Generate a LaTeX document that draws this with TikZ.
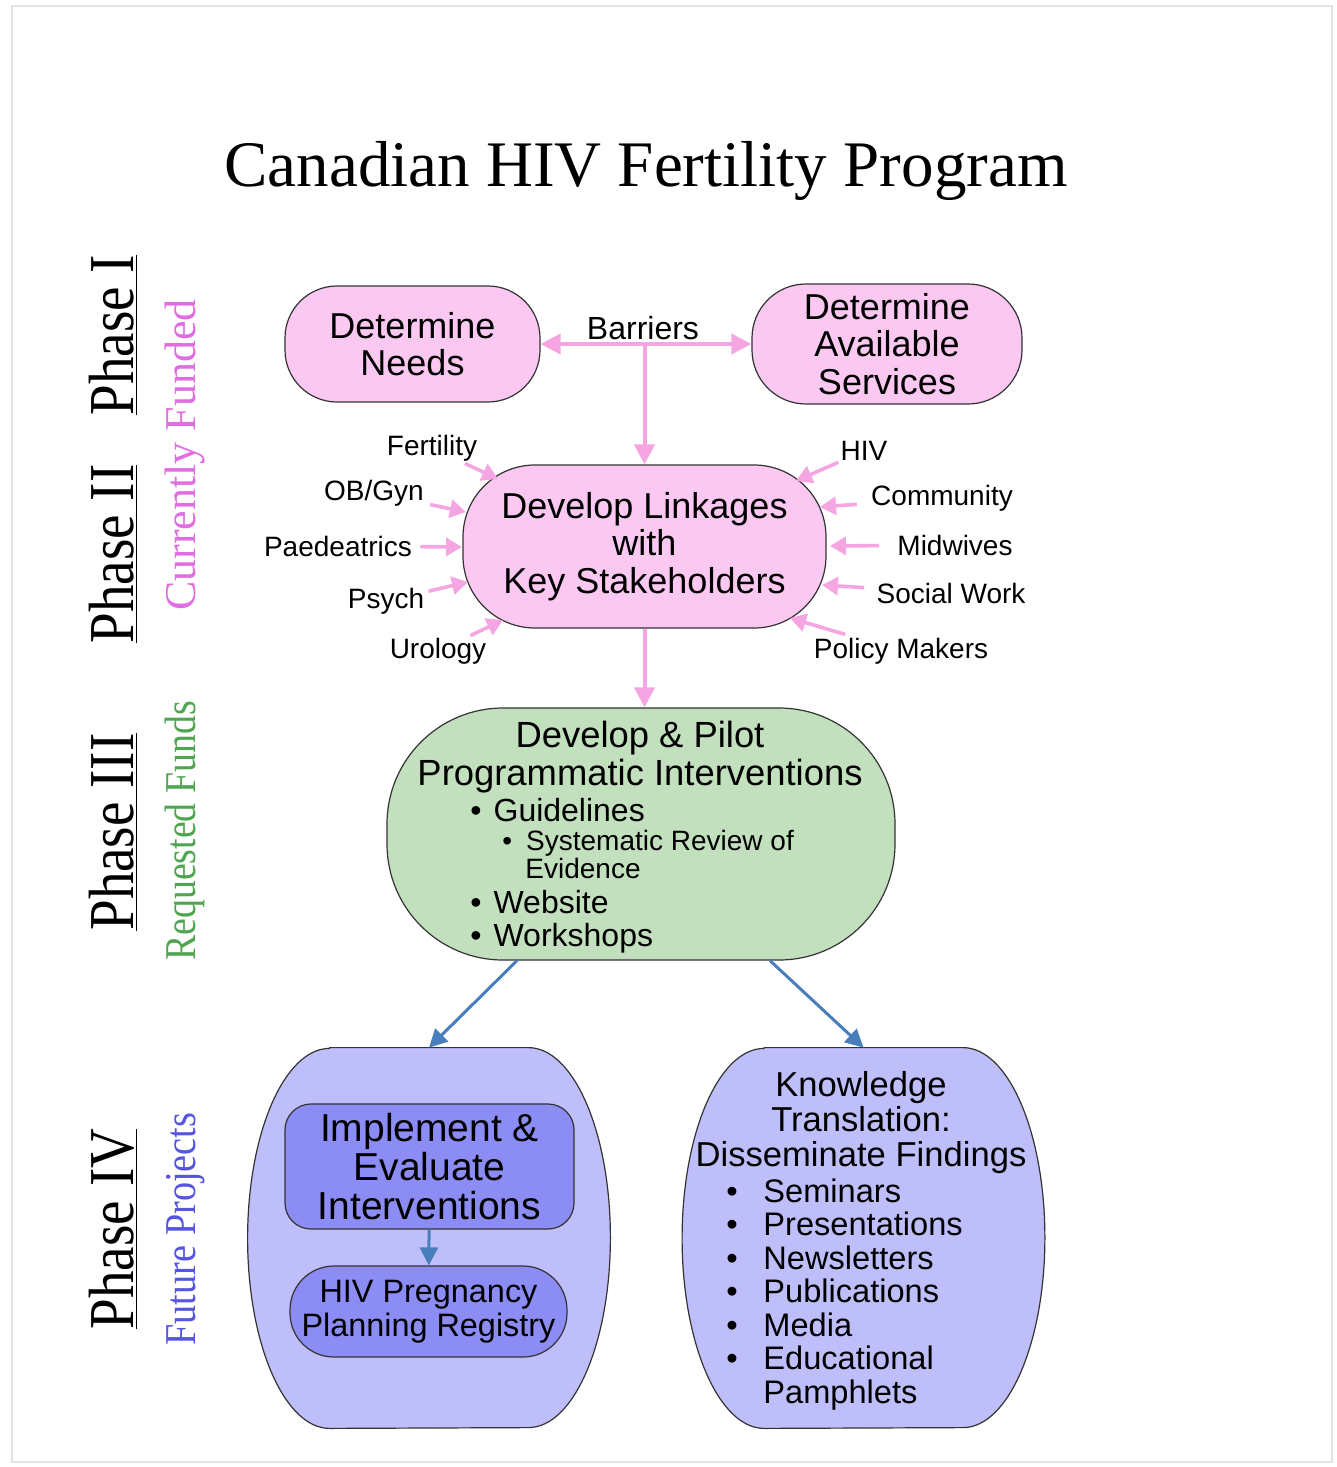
\documentclass[tikz,border=0pt]{standalone}
\usepackage{fontspec}
\setmainfont{Liberation Sans}
\newfontfamily\timesfont{Liberation Serif}
\usepackage{xcolor}
\usetikzlibrary{arrows.meta, calc}
\definecolor{pinkfill}{RGB}{250,200,240}
\definecolor{pinkline}{RGB}{245,165,225}
\definecolor{greenfill}{RGB}{195,224,190}
\definecolor{lavfill}{RGB}{190,190,250}
\definecolor{deepfill}{RGB}{140,140,245}
\definecolor{arrblue}{RGB}{74,126,187}
\definecolor{fundpink}{RGB}{225,110,225}
\definecolor{reqgreen}{RGB}{80,165,80}
\definecolor{futblue}{RGB}{85,85,225}
\tikzset{pinkbox/.style={draw=black!80, line width=0.6pt, fill=pinkfill, align=center, inner sep=0pt,
  font=\fontsize{18}{18.75}\selectfont},
  deepbox/.style={draw=black!80, line width=0.6pt, fill=deepfill, align=center, inner sep=0pt},
  pinkarr/.style={draw=pinkline, line width=2pt, -{Triangle[length=10pt,width=10pt]}},
  stakearr/.style={draw=pinkline, line width=1.8pt, -{Triangle[length=8pt,width=9pt]}},
  bluearr/.style={draw=arrblue, line width=1.5pt, -{Triangle[length=9pt,width=9pt]}},
  stake/.style={font=\fontsize{14}{16}\selectfont, inner sep=1pt},
  phase/.style={rotate=90, anchor=base, font=\timesfont\fontsize{32}{36}\selectfont},
  fund/.style={rotate=90, anchor=base, font=\timesfont\fontsize{22}{26}\selectfont}}
\newcommand{\barrelbox}[2]{%
  \node[minimum width=181pt, minimum height=190pt, inner sep=0pt] (#1) at (#2) {};
  \draw[draw=black!80, line width=0.6pt, fill=lavfill]
    ([xshift=41pt]#1.north west) -- ([xshift=-41pt]#1.north east)
    arc[start angle=90, end angle=-90, x radius=41pt, y radius=95pt]
    -- ([xshift=41pt]#1.south west)
    arc[start angle=270, end angle=90, x radius=41pt, y radius=95pt] -- cycle;}

\begin{document}
\begin{tikzpicture}[x=0.5pt, y=-0.5pt]
\useasboundingbox (0,0) rectangle (1337,1467);
\draw[black!10, line width=1pt] (12,6) rectangle (1332,1462);
\node[font=\timesfont\fontsize{32.5}{36}\selectfont, anchor=base] (title) at (646,186) {Canadian HIV Fertility Program};

% phases down the left side
\foreach \nm/\txt/\y in {ph1/I/335, ph2/II/554, ph3/III/832, ph4/IV/1229}
  \node[phase] (\nm) at (133,\y) {\scalebox{0.86}[1]{\underline{Phase \txt}}};
\node[fund, text=fundpink] (cf) at (195,455) {Currently Funded};
\node[fund, text=reqgreen] (rf) at (195,831) {\scalebox{0.86}[1]{Requested Funds}};
\node[fund, text=futblue] (fp) at (195,1229) {\scalebox{0.87}[1]{Future Projects}};

% phase I and II
\node[pinkbox, minimum width=127.5pt, minimum height=58pt, rounded corners=26pt] (need) at (412.5,344) {Determine\\Needs};
\node[pinkbox, minimum width=135pt, minimum height=60pt, rounded corners=27pt] (avail) at (887,344) {Determine\\Available\\Services};
\node[font=\fontsize{16}{18}\selectfont] (barr) at (643,328) {Barriers};
\draw[pinkarr, {Triangle[length=10pt,width=10pt]}-{Triangle[length=10pt,width=10pt]}] (need) -- (avail);
\node[pinkbox, minimum width=181.5pt, minimum height=81.5pt, rounded corners=36pt] (link) at (644.5,546.5) {Develop Linkages\\with\\Key Stakeholders};
\draw[pinkarr] (link.north |- need.east) -- (link.north);
\foreach \nm/\txt/\x/\y/\tx/\ty/\sh in {fert/Fertility/432/448/498/479/0, obg/{OB/Gyn}/374/493/466/512/2,
  paed/Paedeatrics/338/546/462/547/3, psy/Psych/386/601/468/582/1, uro/Urology/438/651/503/620/0,
  hiv/HIV/864/451/796/481/0, com/Community/942/498/820/507/6, mid/Midwives/955/545/830/546/8,
  soc/Social Work/951/593/822/585/5, pol/Policy Makers/901/651/790/618/2}
{ \node[stake] (\nm) at (\x,\y) {\txt};
  \coordinate (\nm-t) at (\tx,\ty);
  \draw[stakearr, shorten <=\sh pt] (\nm) -- (\nm-t); }

% phase III
\node[draw=black!80, line width=0.6pt, fill=greenfill, minimum width=254pt, minimum height=126pt, rounded corners=58pt] (pilot) at (641,834) {};
\draw[pinkarr] (link.south) -- (link.south |- pilot.north);
\node[align=center, inner sep=0pt, font=\fontsize{18.2}{18.75}\selectfont] (pilothd) at (640,757) {Develop \& Pilot\\Programmatic Interventions};
\foreach \nm/\x/\y/\fs/\txt in {gl/470/821/16/{\textbullet\hspace{6pt}Guidelines}, sr/502/850/14/{\textbullet\hspace{7pt}Systematic Review of},
  ev/525/878/14/Evidence, ws/470/913/16/{\textbullet\hspace{6pt}Website}, wk/470/946/16/{\textbullet\hspace{6pt}Workshops}}
  \node[anchor=base west, inner sep=0pt, font=\fontsize{\fs}{\fs}\selectfont] (\nm) at (\x,\y) {\txt};

% phase IV
\barrelbox{ph4l}{429,1238}
\barrelbox{ph4r}{863.5,1238}
\draw[bluearr] ([xshift=-62pt]pilot.south) -- (ph4l.north);
\draw[bluearr] ([xshift=64.5pt]pilot.south) -- (ph4r.north);
\node[deepbox, minimum width=144.5pt, minimum height=62.5pt, rounded corners=13pt, font=\fontsize{19.5}{19.5}\selectfont] (impl) at (429.5,1166.5) {Implement \&\\Evaluate\\Interventions};
\node[deepbox, minimum width=138.5pt, minimum height=45.5pt, rounded corners=22pt, font=\fontsize{16.2}{17}\selectfont] (reg) at (428.5,1311.5) {HIV Pregnancy\\Planning Registry};
\draw[bluearr] (impl) -- (reg);
\node[align=center, inner sep=0pt, anchor=north, font=\fontsize{17.3}{17.5}\selectfont] (kthd) at (861,1071) {Knowledge\\Translation:\\Disseminate Findings};
\node[align=left, inner sep=0pt, anchor=north west, font=\fontsize{16.3}{16.75}\selectfont] (ktls) at (726,1178)
  {\textbullet\hspace*{12.8pt}Seminars\\\textbullet\hspace*{12.8pt}Presentations\\\textbullet\hspace*{12.8pt}Newsletters\\
   \textbullet\hspace*{12.8pt}Publications\\\textbullet\hspace*{12.8pt}Media\\\textbullet\hspace*{12.8pt}Educational\\\hspace*{18.5pt}Pamphlets};
\end{tikzpicture}
\end{document}
